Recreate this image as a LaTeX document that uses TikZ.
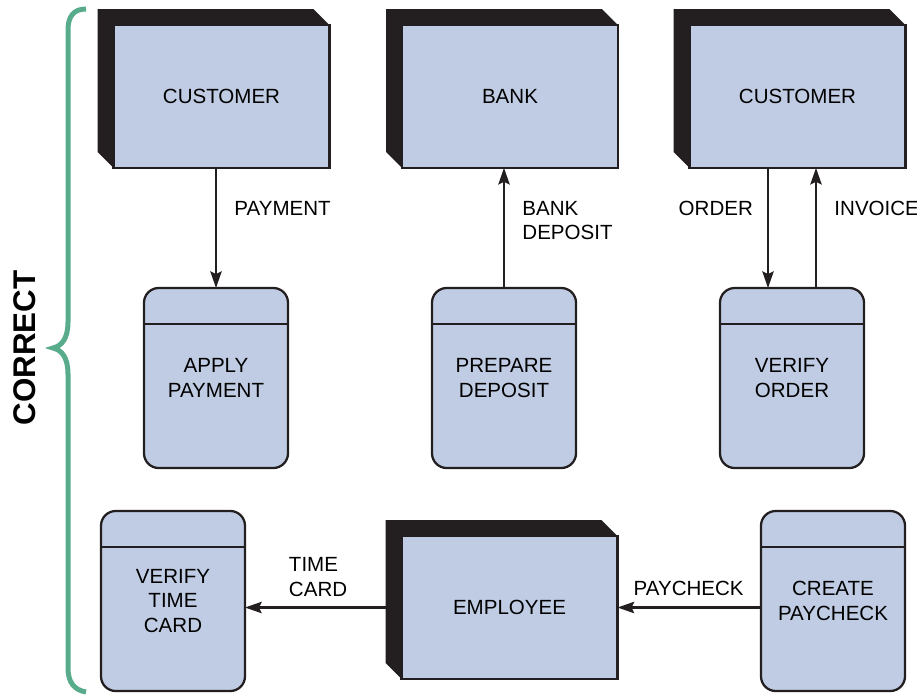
\documentclass[tikz,border=0pt]{standalone}
\usepackage{fontspec}
\setmainfont{Liberation Sans}
\usetikzlibrary{arrows.meta,positioning,calc,backgrounds}
\definecolor{boxfill}{RGB}{192,204,227}
\definecolor{edgedark}{RGB}{35,31,32}
\definecolor{bracegreen}{RGB}{88,172,140}
\tikzset{
  entbox/.style={draw=edgedark, line width=1.6pt, fill=boxfill, minimum width=162pt, minimum height=107pt, inner sep=0pt, outer sep=0pt, font=\fontsize{15.4}{18.4}\selectfont},
  procbox/.style={draw=edgedark, line width=1.7pt, rounded corners=11pt, fill=boxfill, minimum width=108pt, minimum height=135pt, inner sep=0pt, outer sep=0pt, align=center, font=\fontsize{15.4}{18.4}\selectfont},
  flow/.style={-{Stealth[length=12.5pt,width=8.5pt,inset=2pt]}, line width=1.7pt, draw=edgedark},
  flowlbl/.style={inner sep=0pt, align=left, font=\fontsize{15.4}{18.4}\selectfont},
  headline/.style={draw=edgedark, line width=1.7pt},
}

\begin{document}
\begin{tikzpicture}[x=0.75pt, y=-0.75pt]
  \useasboundingbox (0,0) rectangle (917,694);

  \node[entbox] (cust1) at (221.5,96.5) {CUSTOMER};
  \node[entbox] (bank)  at (510,96.5)   {BANK};
  \node[entbox] (cust2) at (797.5,96.5) {CUSTOMER};
  \node[entbox] (empl)  at (509.5,607.5) {EMPLOYEE};

  \node[procbox] (apply)  at (216,378) {APPLY\\PAYMENT};
  \node[procbox] (prep)   at (504,378) {PREPARE\\DEPOSIT};
  \node[procbox] (verify) at (792,378) {VERIFY\\ORDER};
  \node[procbox] (vtc)    at (173,601) {VERIFY\\TIME\\CARD};
  \node[procbox] (cpay)   at (833,601) {CREATE\\PAYCHECK};

  \foreach \p in {apply,prep,verify,vtc,cpay}
    \draw[headline] ($(\p.north west)+(0,36)$) -- ($(\p.north east)+(0,36)$);

  \begin{scope}[on background layer]
    \foreach \e in {cust1,bank,cust2,empl}
      \fill[edgedark] (\e.south west) -- ++(-16,-16) -- ($(\e.north west)+(-16,-16)$)
        -- ($(\e.north east)+(-16,-16)$) -- (\e.north east) -- (\e.north west) -- cycle;
  \end{scope}

  \coordinate (ordB) at ([xshift=-18pt]verify.north);
  \coordinate (invB) at ([xshift=18pt]verify.north);
  \coordinate (emplback) at ([xshift=-12pt]empl.west);

  \draw[flow] (cust1.south -| apply.north) -- (apply.north)
    node[flowlbl, pos=.34, anchor=west, xshift=13pt] {PAYMENT};
  \draw[flow] (prep.north) -- (prep.north |- bank.south)
    node[flowlbl, pos=.56, anchor=west, xshift=13pt] {BANK\\DEPOSIT};
  \draw[flow] (ordB |- cust2.south) -- (ordB)
    node[flowlbl, pos=.34, anchor=east, xshift=-10.5pt] {ORDER};
  \draw[flow] (invB) -- (invB |- cust2.south)
    node[flowlbl, pos=.66, anchor=west, xshift=13pt] {INVOICE};
  \draw[flow] (emplback) -- (emplback -| vtc.east)
    node[flowlbl, pos=.695, anchor=west, yshift=23pt] {TIME\\CARD};
  \draw[flow] (cpay.west |- empl.east) -- (empl.east)
    node[flowlbl, pos=.895, anchor=west, yshift=14pt] {PAYCHECK};

  \node[font=\bfseries\fontsize{23.5}{28}\selectfont, rotate=90] (corr) at (25,348) {CORRECT};
  \draw[bracegreen, line width=3.75pt] (86,9) .. controls (74,9) and (68,16) .. (68,30)
    -- (68,322) .. controls (68,338) and (62,346) .. (53,348)
    .. controls (62,350) and (68,358) .. (68,374)
    -- (68,668) .. controls (68,682) and (74,690) .. (86,692);
\end{tikzpicture}
\end{document}
